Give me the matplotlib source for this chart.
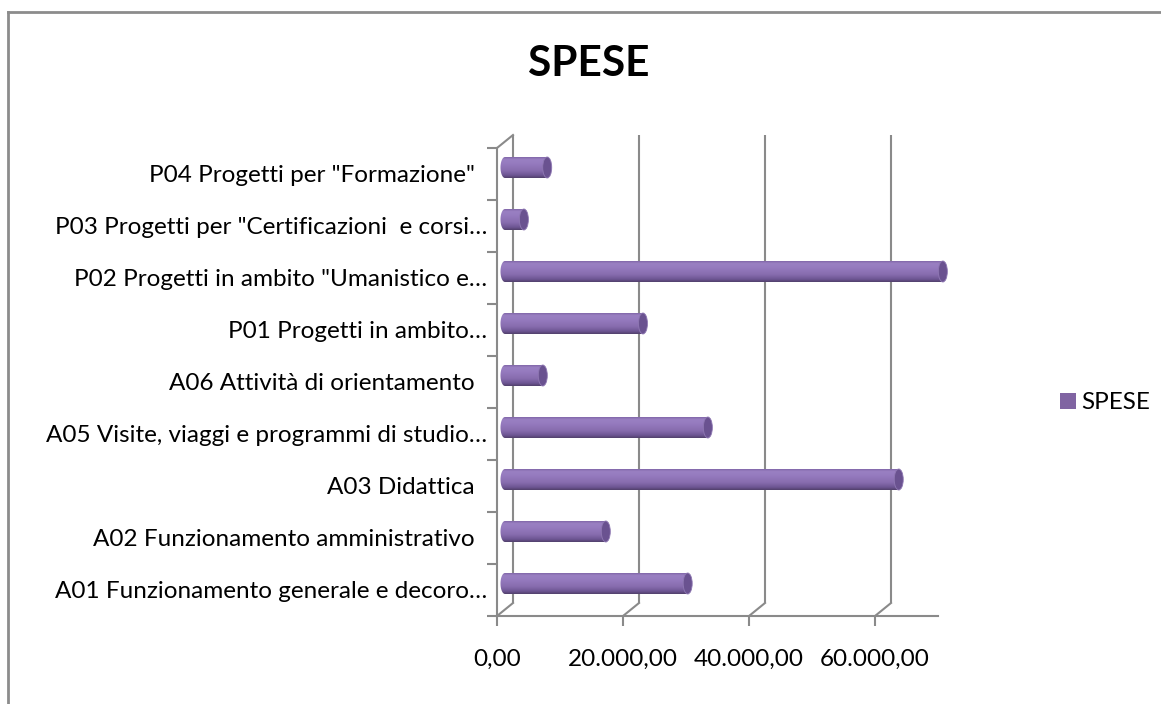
import matplotlib
matplotlib.use("Agg")
import matplotlib.pyplot as plt
import numpy as np
from matplotlib.patches import Ellipse, PathPatch, Patch
from matplotlib.path import Path
from matplotlib.colors import LinearSegmentedColormap
from matplotlib.lines import Line2D

plt.rcParams['font.family'] = ['Lato', 'DejaVu Sans']

# ---------------- data ----------------
categories = [
    "A01 Funzionamento generale e decoro\u2026",
    "A02 Funzionamento amministrativo  ",
    "A03 Didattica  ",
    "A05 Visite, viaggi e programmi di studio\u2026",
    "A06 Attivit\u00e0 di orientamento  ",
    "P01 Progetti in ambito\u2026",
    "P02 Progetti in ambito \"Umanistico e\u2026",
    "P03 Progetti per \"Certificazioni  e corsi\u2026",
    "P04 Progetti per \"Formazione\"  ",
]
spese = [29000, 16000, 62500, 32200, 6000, 21900, 69500, 3000, 6700]
x_ticks = [0, 20000, 40000, 60000]
x_max = 70000
series_name = "SPESE"
title = "SPESE"

# ---------------- figure ----------------
W, H = 1161, 704
fig = plt.figure(figsize=(W / 100, H / 100), dpi=100)
ax_l, ax_r, ax_t, ax_b = 497, 938, 148, 616
ax = fig.add_axes([ax_l / W, (H - ax_b) / H, (ax_r - ax_l) / W, (ax_b - ax_t) / H])

n = len(categories)
ax.set_xlim(0, x_max)
ax.set_ylim(-0.5, n - 0.5)
ux = x_max / (ax_r - ax_l)          # data units per pixel (x)
uy = n / (ax_b - ax_t)              # data units per pixel (y)

DX, DY = 16 * ux, 13 * uy           # depth offset of back wall
grid_c = "#8a8a8a"
lw = 1.5
fs = 17.5

# back wall gridlines + floor diagonals
for v in x_ticks:
    ax.plot([v + DX, v + DX], [-0.5 + DY, n - 0.5 + DY], color=grid_c, lw=lw,
            clip_on=False, zorder=1, solid_capstyle='butt')
    ax.plot([v, v + DX], [-0.5, -0.5 + DY], color=grid_c, lw=lw, clip_on=False, zorder=1)
# left wall top diagonal
ax.plot([0, DX], [n - 0.5, n - 0.5 + DY], color=grid_c, lw=lw, clip_on=False, zorder=1)

# spines
for s in ["top", "right"]:
    ax.spines[s].set_visible(False)
for s in ["left", "bottom"]:
    ax.spines[s].set_color(grid_c)
    ax.spines[s].set_linewidth(lw)

# ticks
ax.set_xticks(x_ticks)
ax.set_xticklabels([f"{v:,.2f}".replace(",", "X").replace(".", ",").replace("X", ".")
                    for v in x_ticks])
ax.tick_params(axis='x', length=7, width=lw, color=grid_c, pad=17, labelsize=fs)
ax.set_yticks(range(n))
ax.set_yticklabels(categories)
ax.tick_params(axis='y', length=0, pad=7, labelsize=fs)
ax.set_yticks(np.arange(-0.5, n, 1.0), minor=True)
ax.tick_params(axis='y', which='minor', length=7, width=lw, color=grid_c)
ax.tick_params(axis='x', which='minor', length=0)
for t in ax.get_xticklabels() + ax.get_yticklabels():
    t.set_color("#000000")

# cylinder bars
cmap = LinearSegmentedColormap.from_list("cyl", [
    (0.0, "#52406c"), (0.12, "#6c5491"), (0.35, "#876cae"),
    (0.7, "#967bbf"), (0.9, "#9a80c2"), (1.0, "#8167a9")])
grad = np.linspace(0, 1, 64).reshape(-1, 1)
mx, my = DX / 2, DY / 2
bh = 21 * uy
cap_w = 9 * ux
for i, v in enumerate(spese):
    yc = i + my
    x0, x1 = mx, v + mx
    th = np.linspace(np.pi / 2, 3 * np.pi / 2, 30)
    left = np.column_stack([x0 + cap_w / 2 * np.cos(th), yc + bh / 2 * np.sin(th)])
    verts = [(x1, yc + bh / 2)] + [tuple(p) for p in left] + [(x1, yc - bh / 2), (x1, yc + bh / 2)]
    codes = [Path.MOVETO] + [Path.LINETO] * (len(verts) - 2) + [Path.CLOSEPOLY]
    body = PathPatch(Path(verts, codes), facecolor="none", edgecolor="none", clip_on=False)
    ax.add_patch(body)
    im = ax.imshow(grad, cmap=cmap, extent=[x0 - cap_w, x1, yc - bh / 2, yc + bh / 2],
                   origin='lower', aspect='auto', zorder=3, interpolation='bilinear')
    im.set_clip_box(fig.bbox)
    im.set_clip_path(body)
    cap = Ellipse((x1, yc), cap_w, bh, facecolor="#6a5290", edgecolor="#8f78b3",
                  lw=0.6, zorder=4, clip_on=False)
    ax.add_patch(cap)

ax.set_xlim(0, x_max)
ax.set_ylim(-0.5, n - 0.5)
ax.set_aspect('auto')

# title
fig.text(589 / W, 1 - 64 / H, title, ha='center', va='center', fontsize=30.5,
         fontweight='bold', color="#000000")

# legend
ax.legend(handles=[Patch(facecolor="#8064a2", edgecolor="none", label=series_name)],
          loc='center left', bbox_to_anchor=(1060 / W, 1 - 403 / H),
          bbox_transform=fig.transFigure, frameon=False, fontsize=fs,
          handlelength=0.64, handleheight=0.64, handletextpad=0.25, borderpad=0,
          borderaxespad=0)

# outer border
bx, by = 8 / W, 1 - 12 / H
fig.add_artist(Line2D([bx, bx], [0, by], transform=fig.transFigure, color="#8c8c8c", lw=2))
fig.add_artist(Line2D([bx, 1], [by, by], transform=fig.transFigure, color="#8c8c8c", lw=2))

fig.savefig("out.png", dpi=100)
